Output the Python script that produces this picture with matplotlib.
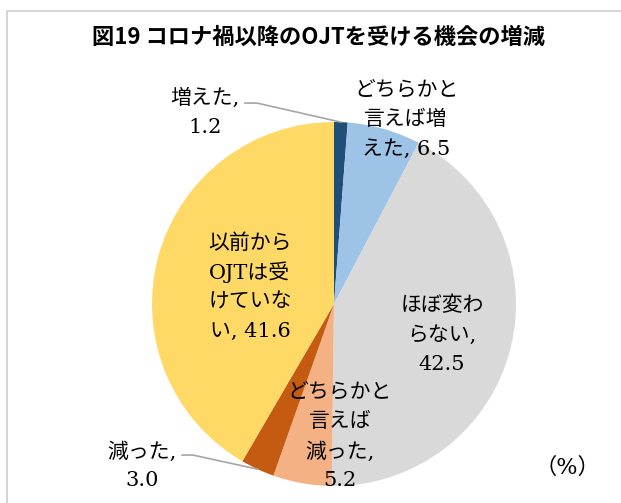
import numpy as np
import matplotlib
matplotlib.use("Agg")
import matplotlib.pyplot as plt
from matplotlib.patches import Rectangle

# Data
categories = ['増えた', 'どちらかと言えば増えた', 'ほぼ変わらない',
              'どちらかと言えば減った', '減った', '以前からOJTは受けていない']
values = [1.2, 6.5, 42.5, 5.2, 3.0, 41.6]
# how each data label is wrapped ({v} = value)
label_fmt = ['増えた,\n{v}', 'どちらかと\n言えば増\nえた, {v}', 'ほぼ変わ\nらない,\n{v}',
             'どちらかと\n言えば\n減った,\n{v}', '減った,\n{v}', '以前から\nOJTは受\nけていな\nい, {v}']

colors = ['#1F4E79', '#9DC3E6', '#D9D9D9', '#F4B183', '#C55A11', '#FFD966']
# label centres in data units (pie radius = 1)
label_pos = [(-0.709, 1.060), (0.396, 1.025), (0.593, -0.159),
             (0.033, -0.717), (-1.055, -0.879), (-0.462, 0.104)]
# leader lines: slice index -> (start, kink)
leaders = {0: ((-0.489, 1.104), (-0.423, 1.104)),
           4: ((-0.835, -0.830), (-0.775, -0.830))}

LABEL_FONT = ['DejaVu Serif', 'Noto Sans CJK JP']
TITLE_FONT = ['Noto Sans CJK JP', 'DejaVu Sans']

fig = plt.figure(figsize=(6.21, 5.03), dpi=100)

# chart frame (only left/top edges fall inside the image)
fig.add_artist(Rectangle((7 / 621, -0.1), 1.2, 0.1 + 1 - 11 / 503,
                         transform=fig.transFigure, fill=False,
                         edgecolor='#D0D0D0', lw=1.2))

fig.text(318 / 621, 1 - 37 / 503, '図19 コロナ禍以降のOJTを受ける機会の増減',
         ha='center', va='center', fontsize=16, fontweight='bold', family=TITLE_FONT)

ax = fig.add_axes([(334 - 182) / 621, 17 / 503, 364 / 621, 364 / 503])
wedges, _ = ax.pie(values, colors=colors, startangle=90, counterclock=False,
                   radius=1, wedgeprops=dict(linewidth=0))
ax.set_xlim(-1, 1)
ax.set_ylim(-1, 1)


def put_label(ax, x, y, text, pitch=21.3):
    lines = text.split('\n')
    n = len(lines)
    for i, line in enumerate(lines):
        dy = ((n - 1) / 2 - i) * pitch
        ax.annotate(line, (x, y), xytext=(0, dy), textcoords='offset points',
                    ha='center', va='center_baseline', fontsize=15,
                    family=LABEL_FONT, annotation_clip=False)


for fmt, v, (x, y) in zip(label_fmt, values, label_pos):
    put_label(ax, x, y, fmt.format(v=f'{v:.1f}'))

for idx, (start, kink) in leaders.items():
    w = wedges[idx]
    mid = np.deg2rad((w.theta1 + w.theta2) / 2)
    end = (np.cos(mid), np.sin(mid))
    ax.plot([start[0], kink[0], end[0]], [start[1], kink[1], end[1]],
            color='#A6A6A6', lw=1.2, clip_on=False)

fig.text(567 / 621, 1 - 468 / 503, '（%）', ha='center', va='center',
         fontsize=16, family=LABEL_FONT)

fig.savefig('out.png', dpi=100)
